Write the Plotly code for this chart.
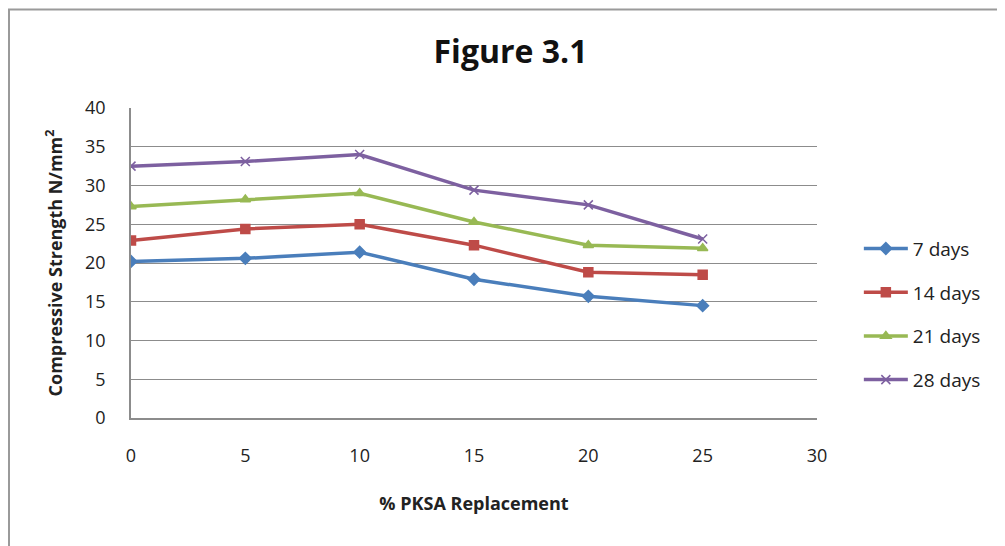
import plotly.graph_objects as go

replacement = [0, 5, 10, 15, 20, 25]
days7 = [20.2, 20.6, 21.4, 17.9, 15.7, 14.5]
days14 = [22.9, 24.4, 25.0, 22.3, 18.8, 18.5]
days21 = [27.3, 28.2, 29.0, 25.3, 22.3, 21.9]
days28 = [32.5, 33.1, 34.0, 29.4, 27.5, 23.1]
series_names = ["7 days", "14 days", "21 days", "28 days"]
colors = ["#4A7EBB", "#BE4B48", "#98B954", "#7D60A0"]
symbols = ["diamond", "square", "triangle-up", "x-thin-open"]
x_ticks = [0, 5, 10, 15, 20, 25, 30]
y_ticks = [0, 5, 10, 15, 20, 25, 30, 35, 40]

FONT = "'Open Sans', sans-serif"

fig = go.Figure()
for name, vals, c, s in zip(series_names, [days7, days14, days21, days28], colors, symbols):
    fig.add_trace(go.Scatter(
        x=replacement, y=vals, name=name, mode="lines+markers",
        line=dict(color=c, width=3.5),
        marker=dict(symbol=s, size=9, color=c, line=dict(color=c, width=1.5)),
        legendgroup=name,
    ))

fig.update_layout(
    width=1005, height=546,
    margin=dict(l=123, r=196, t=100, b=136, autoexpand=False),
    paper_bgcolor="white", plot_bgcolor="white",
    font=dict(family=FONT, size=18, color="#222"),
    title=dict(text="Figure 3.1", x=0.5, xanchor="center", y=0.919, yanchor="middle",
               font=dict(family=FONT, size=32, color="#111", weight="bold")),
    showlegend=True,
    legend=dict(x=1.061, y=0.335, xanchor="left", yanchor="middle",
                font=dict(size=19, color="#222"), tracegroupgap=16,
                itemwidth=44, bgcolor="rgba(0,0,0,0)"),
    xaxis=dict(range=[0, 30], tickvals=x_ticks, showgrid=False, zeroline=False,
               showline=True, linecolor="#8c8c8c", linewidth=1.5, ticks="",
               ticklabelstandoff=21, tickfont=dict(size=18, color="#222"),
               title=dict(text="% PKSA Replacement", standoff=31,
                          font=dict(size=18, color="#222", weight="bold"))),
    yaxis=dict(range=[0, 40], tickvals=y_ticks, showgrid=True, gridcolor="#8c8c8c",
               gridwidth=1.2, zeroline=False, showline=True, linecolor="#8c8c8c",
               linewidth=1.5, ticks="", ticklabelstandoff=20,
               tickfont=dict(size=18, color="#222"),
               title=dict(text="Compressive Strength N/mm<sup>2</sup>", standoff=18,
                          font=dict(size=18, color="#222", weight="bold"))),
)

# outer chart border (cropped on right and bottom in the reference)
fig.add_shape(type="rect", xref="paper", yref="paper",
              x0=(9 - 131) / 686, x1=(1100 - 131) / 686,
              y0=(418 - 700) / 310, y1=(418 - 9.5) / 310,
              line=dict(color="#9a9a9a", width=2), fillcolor="rgba(0,0,0,0)", layer="below")

fig.write_html("out.html")
